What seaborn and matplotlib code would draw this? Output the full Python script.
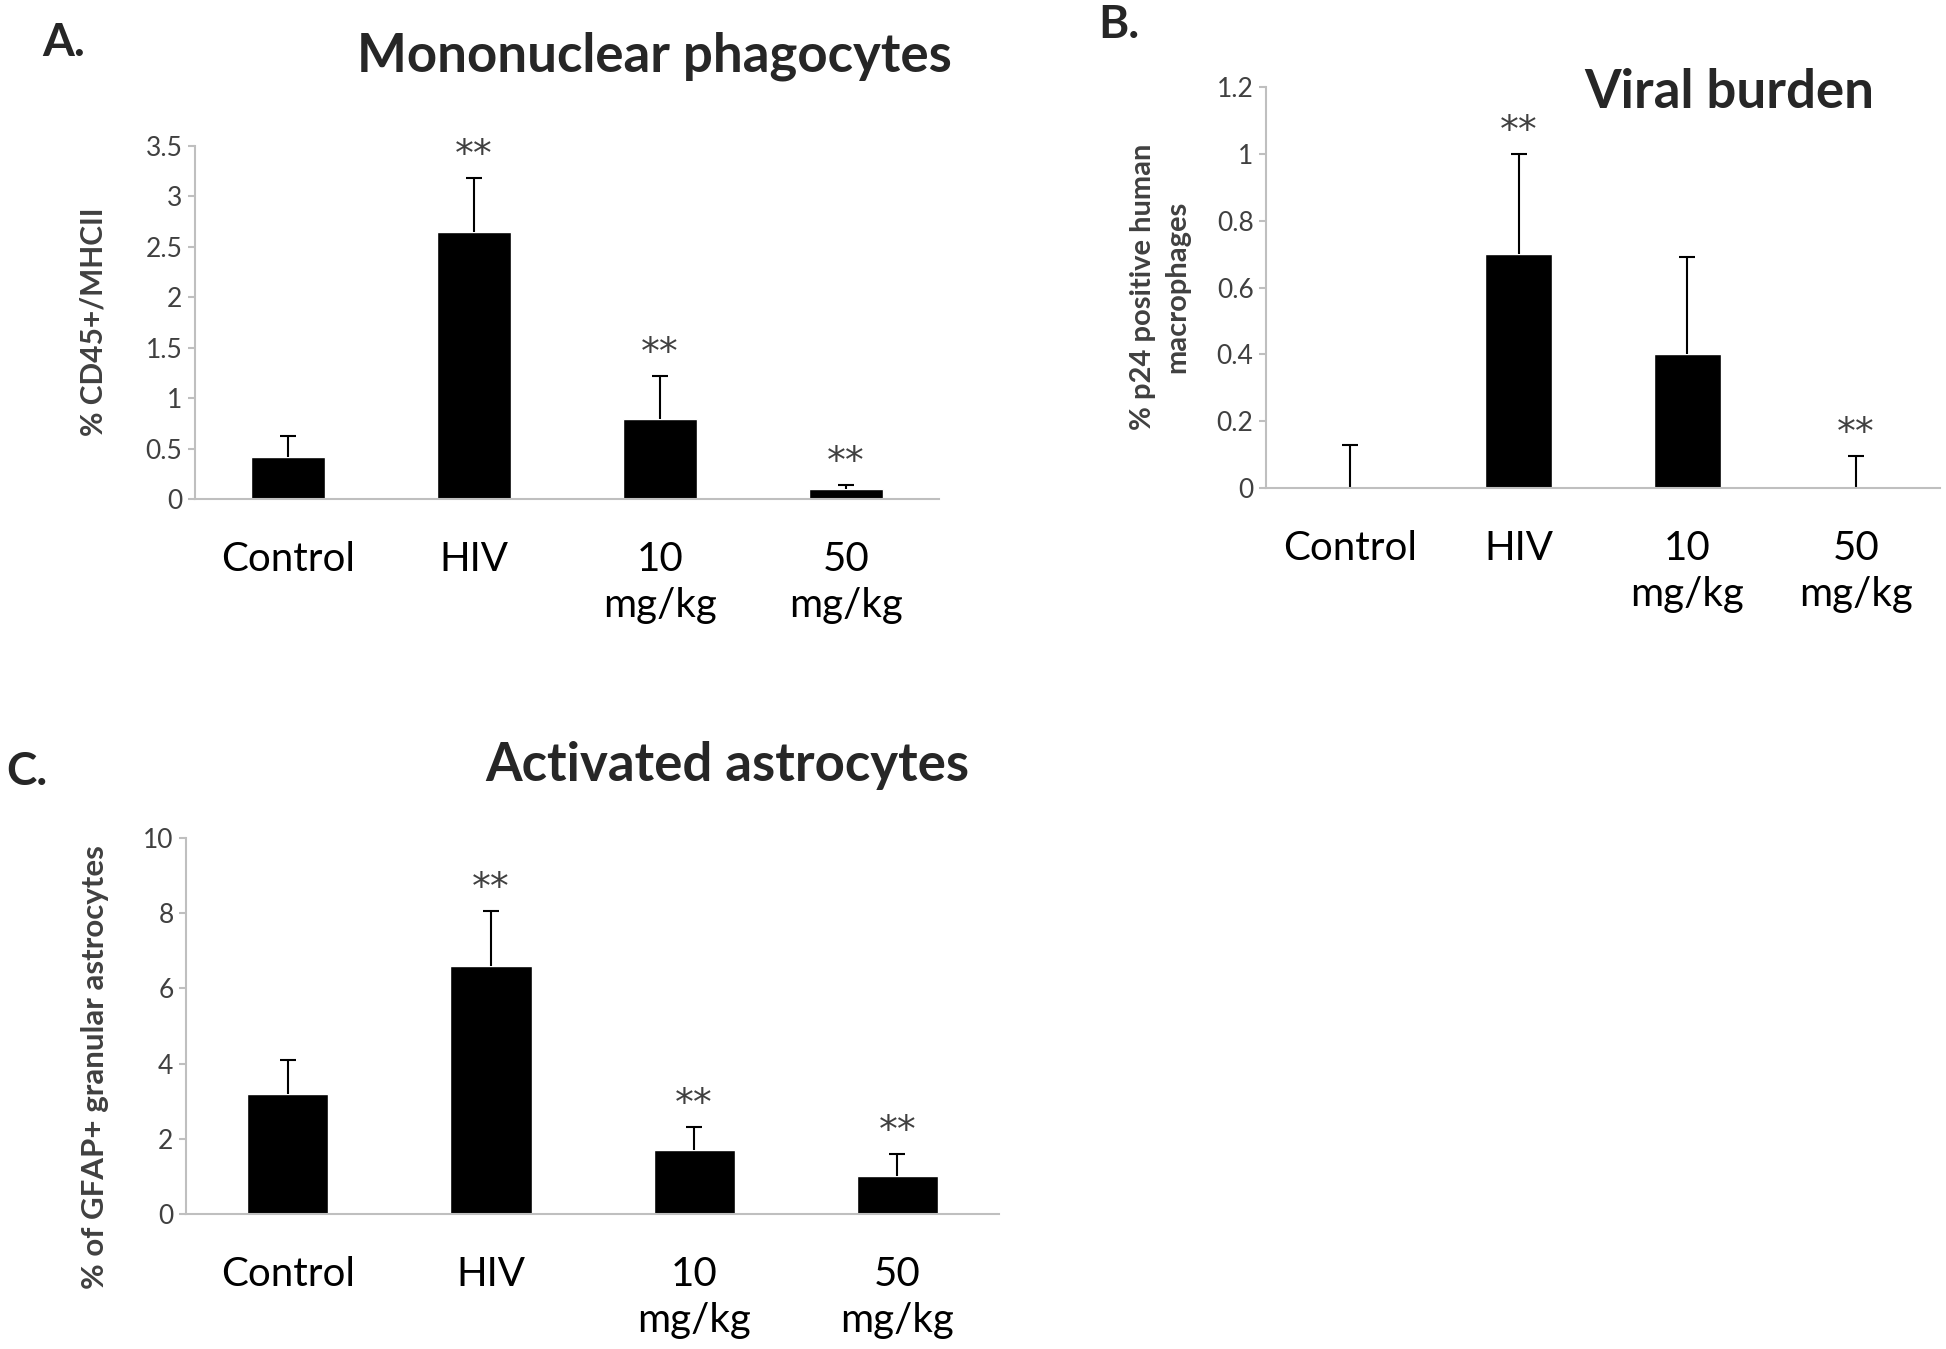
import numpy as np
import pandas as pd
import seaborn as sns
import matplotlib.pyplot as plt

# %%

### Data
groups = ["Control", "HIV", "10 mg/kg", "50 mg/kg"]
group_labels = ["Control", "HIV", "10\nmg/kg", "50\nmg/kg"]

mono_mean = [0.42, 2.65, 0.79, 0.10]
mono_err = [0.20, 0.53, 0.43, 0.04]
mono_stars = ["", "**", "**", "**"]

viral_mean = [0.0, 0.70, 0.40, 0.0]
viral_err = [0.13, 0.30, 0.29, 0.095]
viral_stars = ["", "**", "", "**"]

astro_mean = [3.2, 6.6, 1.7, 1.0]
astro_err = [0.9, 1.45, 0.6, 0.6]
astro_stars = ["", "**", "**", "**"]

mono_ticks = [0, 0.5, 1, 1.5, 2, 2.5, 3, 3.5]
viral_ticks = [0, 0.2, 0.4, 0.6, 0.8, 1, 1.2]
astro_ticks = [0, 2, 4, 6, 8, 10]

# %%

sns.set_style("white")
plt.rcParams['font.family'] = ['Lato', 'DejaVu Sans']

AXIS_GRAY = "#bfbfbf"
TEXT_GRAY = "#404040"


def draw_panel(ax, means, errs, stars, ticks, ylabel, label_xy, label_size):
    df = pd.DataFrame({"group": groups, "value": means})
    sns.barplot(data=df, x="group", y="value", color="black", width=0.4,
                saturation=1, ax=ax)
    x = np.arange(len(groups))
    tops = np.array(means) + np.array(errs)
    # one-sided error bars, cap only on top
    ax.errorbar(x, means, yerr=[np.zeros(len(x)), errs], fmt="none",
                ecolor="black", elinewidth=1.5, capsize=0)
    ax.scatter(x, tops, marker="_", s=130, color="black", linewidths=1.5,
               zorder=3)
    for xi, top, s in zip(x, tops, stars):
        if s:
            ax.annotate(s, (xi, top), xytext=(0, 16), textcoords="offset points",
                        ha="center", va="center", fontsize=27, color=TEXT_GRAY,
                        family="DejaVu Sans")

    ax.set_xlim(-0.5, len(groups) - 0.5)
    ax.set_ylim(ticks[0], ticks[-1])
    ax.set_yticks(ticks)
    ax.set_yticklabels([f"{t:g}" for t in ticks])
    ax.set_xticks(x)
    ax.set_xticklabels(group_labels, linespacing=1.3)
    ax.set_xticks(np.arange(len(groups) + 1) - 0.5, minor=True)

    ax.tick_params(axis="x", which="major", length=0, pad=30,
                   labelsize=29, labelcolor="black")
    ax.tick_params(axis="x", which="minor", length=8, width=1.5,
                   color=AXIS_GRAY, direction="out")
    ax.tick_params(axis="y", which="major", length=5, width=1.5,
                   color=AXIS_GRAY, direction="out", labelsize=19,
                   labelcolor=TEXT_GRAY, pad=4, left=True)

    for side in ["top", "right"]:
        ax.spines[side].set_visible(False)
    for side in ["left", "bottom"]:
        ax.spines[side].set_color(AXIS_GRAY)
        ax.spines[side].set_linewidth(1.5)

    ax.set_xlabel("")
    ax.set_ylabel(ylabel, fontsize=label_size, fontweight="bold",
                  color=TEXT_GRAY, linespacing=1.4)
    ax.yaxis.set_label_coords(label_xy[0], label_xy[1],
                              transform=ax.figure.transFigure)


fig = plt.figure(figsize=(19.46, 13.49), dpi=100)

ax_a = fig.add_axes([0.1002, 0.6301, 0.3823, 0.2617])
ax_b = fig.add_axes([0.6506, 0.6382, 0.3463, 0.2973])
ax_c = fig.add_axes([0.0956, 0.1001, 0.4178, 0.2787])

draw_panel(ax_a, mono_mean, mono_err, mono_stars, mono_ticks,
           "% CD45+/MHCII", (108 / 1946, 1 - 322 / 1349), 21.5)
draw_panel(ax_b, viral_mean, viral_err, viral_stars, viral_ticks,
           "% p24 positive human\nmacrophages", (1190 / 1946, 1 - 287 / 1349), 21)
draw_panel(ax_c, astro_mean, astro_err, astro_stars, astro_ticks,
           "% of GFAP+ granular astrocytes", (109 / 1946, 1 - 1067 / 1349), 22.5)

### Titles and panel letters
fig.text(654 / 1946, 1 - 56 / 1349, "Mononuclear phagocytes", ha="center",
         va="center", fontsize=38, fontweight="bold")
fig.text(1729 / 1946, 1 - 93 / 1349, "Viral burden", ha="center",
         va="center", fontsize=38, fontweight="bold")
fig.text(727 / 1946, 1 - 766 / 1349, "Activated astrocytes", ha="center",
         va="center", fontsize=38, fontweight="bold")

fig.text(42 / 1946, 1 - 43 / 1349, "A.", ha="left", va="center",
         fontsize=33, fontweight="bold")
fig.text(1098 / 1946, 1 - 25 / 1349, "B.", ha="left", va="center",
         fontsize=33, fontweight="bold")
fig.text(6 / 1946, 1 - 772 / 1349, "C.", ha="left", va="center",
         fontsize=33, fontweight="bold")

fig.savefig("out.png", dpi=100, facecolor="white")
